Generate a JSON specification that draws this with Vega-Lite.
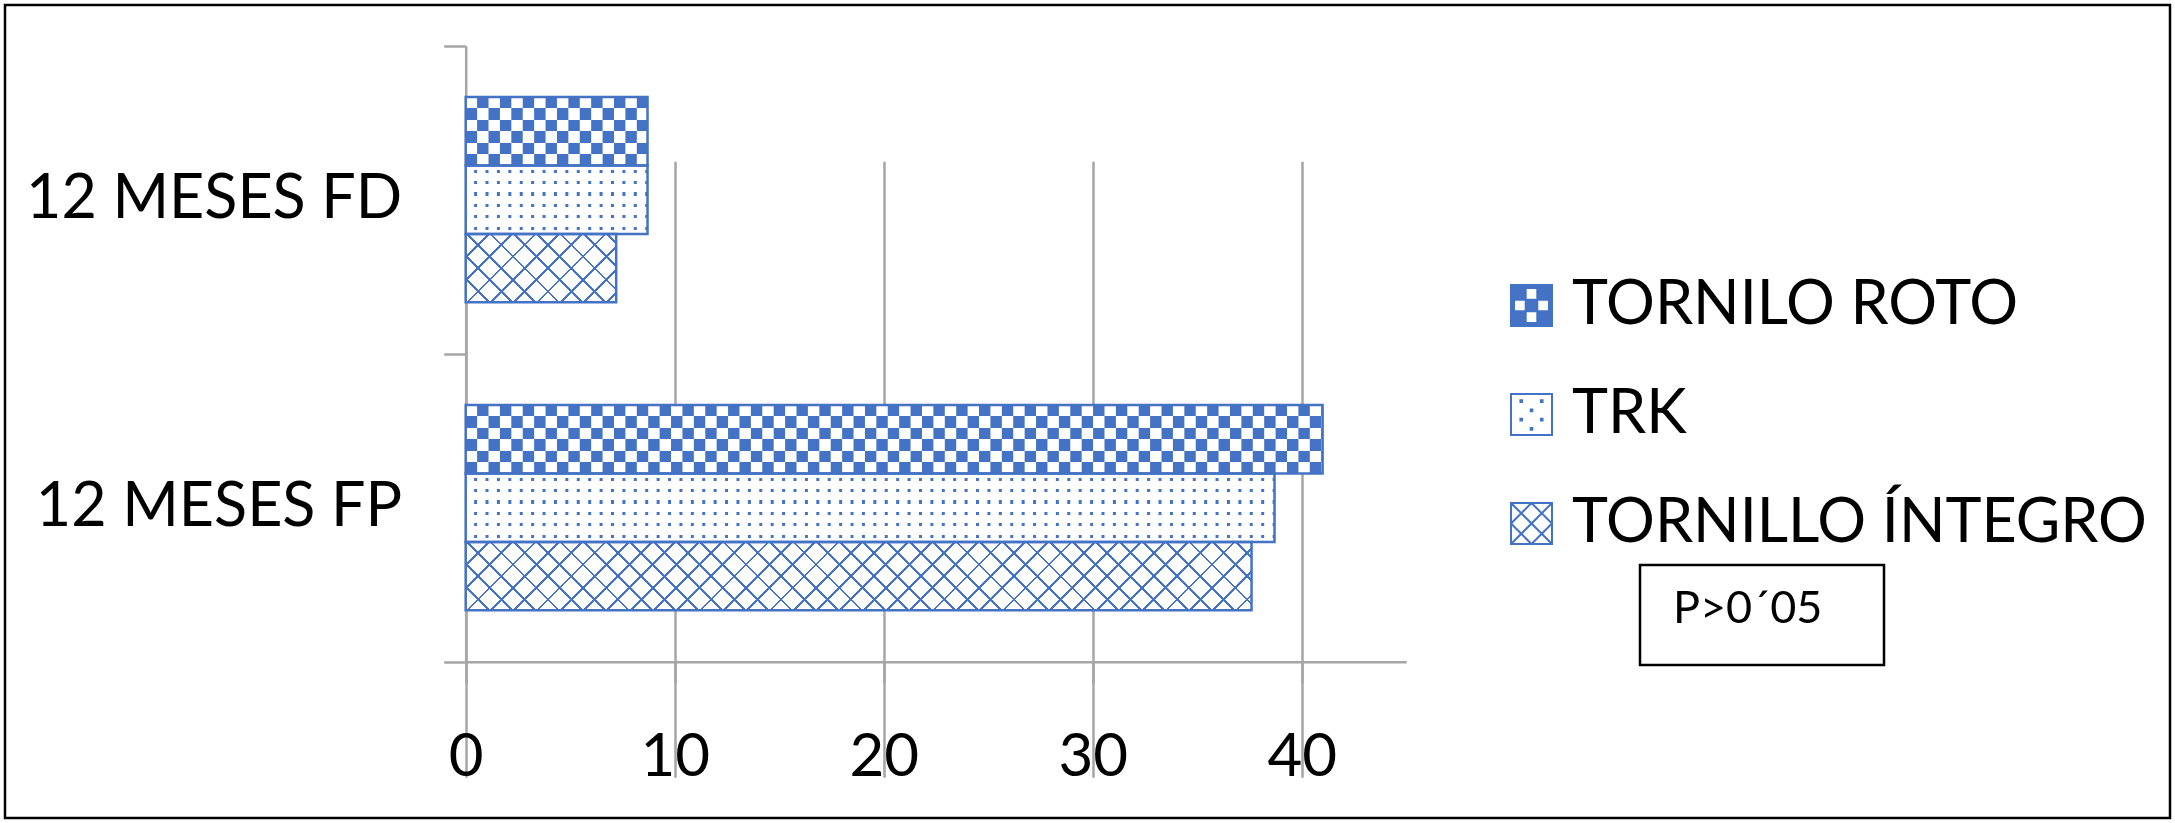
{
  "$schema": "https://vega.github.io/schema/vega-lite/v6.json",
  "width": 2165,
  "height": 813,
  "autosize": {"type": "none"},
  "padding": 5,
  "background": "white",
  "config": {
    "view": {"stroke": "#000000", "strokeWidth": 2.5},
    "axis": {"labelFont": "Lato", "labelColor": "#000000", "domainColor": "#A6A6A6", "tickColor": "#A6A6A6", "gridColor": "#A6A6A6", "domainWidth": 2.5, "tickWidth": 2.5, "gridWidth": 2.5, "labelLimit": 1000},
    "legend": {"labelLimit": 1000, "strokeWidth": 2.5}
  },
  "data": {
    "values": [
      {"periodo": "12 MESES FD", "serie": "TORNILO ROTO", "valor": 8.7},
      {"periodo": "12 MESES FD", "serie": "TRK", "valor": 8.7},
      {"periodo": "12 MESES FD", "serie": "TORNILLO ÍNTEGRO", "valor": 7.2},
      {"periodo": "12 MESES FP", "serie": "TORNILO ROTO", "valor": 41.0},
      {"periodo": "12 MESES FP", "serie": "TRK", "valor": 38.7},
      {"periodo": "12 MESES FP", "serie": "TORNILLO ÍNTEGRO", "valor": 37.6}
    ]
  },
  "encoding": {
    "y": {
      "field": "periodo", "type": "nominal", "sort": ["12 MESES FD", "12 MESES FP"],
      "scale": {"range": [40.7, 656.7], "paddingInner": 0, "paddingOuter": 0},
      "axis": {"title": null, "offset": -460.7, "tickBand": "extent", "tickSize": 22, "labelFontSize": 61, "labelPadding": 42, "grid": false}
    },
    "yOffset": {"field": "serie", "type": "nominal", "sort": ["TORNILO ROTO", "TRK", "TORNILLO ÍNTEGRO"], "scale": {"paddingInner": 0, "paddingOuter": 0.75}},
    "x": {
      "field": "valor", "type": "quantitative",
      "scale": {"domain": [0, 45], "range": [460.7, 1401.2], "nice": false},
      "axis": {"title": null, "values": [0, 10, 20, 30, 40], "offset": -156.3, "tickSize": 21, "labelFontSize": 60, "labelPadding": 46, "grid": true, "labelFlush": false}
    }
  },
  "layer": [
    {
      "transform": [{"filter": "datum.serie == 'TORNILO ROTO'"}],
      "mark": {"type": "bar", "fill": {"gradient": "linear", "x1": 0, "y1": 0, "x2": 0, "y2": 1, "stops": [
        {"offset": 0, "color": "#000000"}, {"offset": 0.16667, "color": "#000000"},
        {"offset": 0.16667, "color": "#ffffff"}, {"offset": 0.33333, "color": "#ffffff"},
        {"offset": 0.33333, "color": "#000000"}, {"offset": 0.5, "color": "#000000"},
        {"offset": 0.5, "color": "#ffffff"}, {"offset": 0.66667, "color": "#ffffff"},
        {"offset": 0.66667, "color": "#000000"}, {"offset": 0.83333, "color": "#000000"},
        {"offset": 0.83333, "color": "#ffffff"}, {"offset": 1, "color": "#ffffff"}
      ]}}
    },
    {
      "transform": [{"filter": "datum.serie == 'TORNILO ROTO'"}],
      "mark": {"type": "rule", "stroke": "#ffffff", "strokeWidth": 68.444, "strokeDash": [11.407, 11.407], "strokeCap": "butt", "blend": "difference"},
      "encoding": {"x": {"datum": 0, "type": "quantitative"}, "x2": {"field": "valor"}}
    },
    {
      "transform": [{"filter": "datum.serie == 'TORNILO ROTO'"}],
      "mark": {"type": "bar", "fill": "#4472C4", "blend": "screen"}
    },
    {
      "transform": [{"filter": "datum.serie == 'TRK'"}],
      "mark": {"type": "bar", "fill": {"gradient": "linear", "x1": 0, "y1": 0, "x2": 0, "y2": 1, "stops": [
        {"offset": 0, "color": "#ffffff"},
        {"offset": 0.0613, "color": "#ffffff"}, {"offset": 0.0613, "color": "#4472C4"}, {"offset": 0.1053, "color": "#4472C4"}, {"offset": 0.1053, "color": "#ffffff"},
        {"offset": 0.228, "color": "#ffffff"}, {"offset": 0.228, "color": "#4472C4"}, {"offset": 0.272, "color": "#4472C4"}, {"offset": 0.272, "color": "#ffffff"},
        {"offset": 0.3947, "color": "#ffffff"}, {"offset": 0.3947, "color": "#4472C4"}, {"offset": 0.4387, "color": "#4472C4"}, {"offset": 0.4387, "color": "#ffffff"},
        {"offset": 0.5613, "color": "#ffffff"}, {"offset": 0.5613, "color": "#4472C4"}, {"offset": 0.6053, "color": "#4472C4"}, {"offset": 0.6053, "color": "#ffffff"},
        {"offset": 0.728, "color": "#ffffff"}, {"offset": 0.728, "color": "#4472C4"}, {"offset": 0.772, "color": "#4472C4"}, {"offset": 0.772, "color": "#ffffff"},
        {"offset": 0.8947, "color": "#ffffff"}, {"offset": 0.8947, "color": "#4472C4"}, {"offset": 0.9387, "color": "#4472C4"}, {"offset": 0.9387, "color": "#ffffff"},
        {"offset": 1, "color": "#ffffff"}
      ]}}
    },
    {
      "transform": [{"filter": "datum.serie == 'TRK'"}],
      "mark": {"type": "rule", "stroke": "#ffffff", "strokeWidth": 68.444, "strokeDash": [8.407, 3], "strokeCap": "butt"},
      "encoding": {"x": {"datum": 0, "type": "quantitative"}, "x2": {"field": "valor"}}
    },
    {
      "transform": [{"filter": "datum.serie == 'TORNILLO ÍNTEGRO'"}],
      "mark": {"type": "bar", "fill": "#ffffff"}
    },
    {
      "transform": [{"filter": "datum.serie == 'TORNILLO ÍNTEGRO' && datum.periodo == '12 MESES FD'"}],
      "mark": {"type": "bar", "fill": {"gradient": "linear", "x1": 0, "y1": 0, "x2": 1.20546, "y2": 0.54827, "stops": [
        {"offset": 0, "color": "rgba(68,114,196,0)"},
        {"offset": 0.10004, "color": "rgba(68,114,196,0)"}, {"offset": 0.10004, "color": "#4472C4"}, {"offset": 0.11283, "color": "#4472C4"}, {"offset": 0.11283, "color": "rgba(68,114,196,0)"},
        {"offset": 0.20647, "color": "rgba(68,114,196,0)"}, {"offset": 0.20647, "color": "#4472C4"}, {"offset": 0.21926, "color": "#4472C4"}, {"offset": 0.21926, "color": "rgba(68,114,196,0)"},
        {"offset": 0.31290, "color": "rgba(68,114,196,0)"}, {"offset": 0.31290, "color": "#4472C4"}, {"offset": 0.32569, "color": "#4472C4"}, {"offset": 0.32569, "color": "rgba(68,114,196,0)"},
        {"offset": 0.41933, "color": "rgba(68,114,196,0)"}, {"offset": 0.41933, "color": "#4472C4"}, {"offset": 0.43212, "color": "#4472C4"}, {"offset": 0.43212, "color": "rgba(68,114,196,0)"},
        {"offset": 0.52576, "color": "rgba(68,114,196,0)"}, {"offset": 0.52576, "color": "#4472C4"}, {"offset": 0.53855, "color": "#4472C4"}, {"offset": 0.53855, "color": "rgba(68,114,196,0)"},
        {"offset": 0.63219, "color": "rgba(68,114,196,0)"}, {"offset": 0.63219, "color": "#4472C4"}, {"offset": 0.64498, "color": "#4472C4"}, {"offset": 0.64498, "color": "rgba(68,114,196,0)"},
        {"offset": 0.73862, "color": "rgba(68,114,196,0)"}, {"offset": 0.73862, "color": "#4472C4"}, {"offset": 0.75141, "color": "#4472C4"}, {"offset": 0.75141, "color": "rgba(68,114,196,0)"},
        {"offset": 0.84505, "color": "rgba(68,114,196,0)"}, {"offset": 0.84505, "color": "#4472C4"}, {"offset": 0.85784, "color": "#4472C4"}, {"offset": 0.85784, "color": "rgba(68,114,196,0)"},
        {"offset": 0.95148, "color": "rgba(68,114,196,0)"}, {"offset": 0.95148, "color": "#4472C4"}, {"offset": 0.96427, "color": "#4472C4"}, {"offset": 0.96427, "color": "rgba(68,114,196,0)"},
        {"offset": 1, "color": "rgba(68,114,196,0)"}
      ]}}
    },
    {
      "transform": [{"filter": "datum.serie == 'TORNILLO ÍNTEGRO' && datum.periodo == '12 MESES FD'"}],
      "mark": {"type": "bar", "fill": {"gradient": "linear", "x1": 0, "y1": 1, "x2": 1.20546, "y2": 0.45173, "stops": [
        {"offset": 0, "color": "rgba(68,114,196,0)"},
        {"offset": 0.10004, "color": "rgba(68,114,196,0)"}, {"offset": 0.10004, "color": "#4472C4"}, {"offset": 0.11283, "color": "#4472C4"}, {"offset": 0.11283, "color": "rgba(68,114,196,0)"},
        {"offset": 0.20647, "color": "rgba(68,114,196,0)"}, {"offset": 0.20647, "color": "#4472C4"}, {"offset": 0.21926, "color": "#4472C4"}, {"offset": 0.21926, "color": "rgba(68,114,196,0)"},
        {"offset": 0.31290, "color": "rgba(68,114,196,0)"}, {"offset": 0.31290, "color": "#4472C4"}, {"offset": 0.32569, "color": "#4472C4"}, {"offset": 0.32569, "color": "rgba(68,114,196,0)"},
        {"offset": 0.41933, "color": "rgba(68,114,196,0)"}, {"offset": 0.41933, "color": "#4472C4"}, {"offset": 0.43212, "color": "#4472C4"}, {"offset": 0.43212, "color": "rgba(68,114,196,0)"},
        {"offset": 0.52576, "color": "rgba(68,114,196,0)"}, {"offset": 0.52576, "color": "#4472C4"}, {"offset": 0.53855, "color": "#4472C4"}, {"offset": 0.53855, "color": "rgba(68,114,196,0)"},
        {"offset": 0.63219, "color": "rgba(68,114,196,0)"}, {"offset": 0.63219, "color": "#4472C4"}, {"offset": 0.64498, "color": "#4472C4"}, {"offset": 0.64498, "color": "rgba(68,114,196,0)"},
        {"offset": 0.73862, "color": "rgba(68,114,196,0)"}, {"offset": 0.73862, "color": "#4472C4"}, {"offset": 0.75141, "color": "#4472C4"}, {"offset": 0.75141, "color": "rgba(68,114,196,0)"},
        {"offset": 0.84505, "color": "rgba(68,114,196,0)"}, {"offset": 0.84505, "color": "#4472C4"}, {"offset": 0.85784, "color": "#4472C4"}, {"offset": 0.85784, "color": "rgba(68,114,196,0)"},
        {"offset": 0.95148, "color": "rgba(68,114,196,0)"}, {"offset": 0.95148, "color": "#4472C4"}, {"offset": 0.96427, "color": "#4472C4"}, {"offset": 0.96427, "color": "rgba(68,114,196,0)"},
        {"offset": 1, "color": "rgba(68,114,196,0)"}
      ]}}
    },
    {
      "transform": [{"filter": "datum.serie == 'TORNILLO ÍNTEGRO' && datum.periodo == '12 MESES FP'"}],
      "mark": {"type": "bar", "fill": {"gradient": "linear", "x1": 0, "y1": 0, "x2": 1.07891, "y2": 0.093964, "stops": [
        {"offset": 0, "color": "rgba(68,114,196,0)"},
        {"offset": 0.02563, "color": "rgba(68,114,196,0)"}, {"offset": 0.02563, "color": "#4472C4"}, {"offset": 0.02891, "color": "#4472C4"}, {"offset": 0.02891, "color": "rgba(68,114,196,0)"},
        {"offset": 0.05291, "color": "rgba(68,114,196,0)"}, {"offset": 0.05291, "color": "#4472C4"}, {"offset": 0.05619, "color": "#4472C4"}, {"offset": 0.05619, "color": "rgba(68,114,196,0)"},
        {"offset": 0.08018, "color": "rgba(68,114,196,0)"}, {"offset": 0.08018, "color": "#4472C4"}, {"offset": 0.08346, "color": "#4472C4"}, {"offset": 0.08346, "color": "rgba(68,114,196,0)"},
        {"offset": 0.10746, "color": "rgba(68,114,196,0)"}, {"offset": 0.10746, "color": "#4472C4"}, {"offset": 0.11074, "color": "#4472C4"}, {"offset": 0.11074, "color": "rgba(68,114,196,0)"},
        {"offset": 0.13473, "color": "rgba(68,114,196,0)"}, {"offset": 0.13473, "color": "#4472C4"}, {"offset": 0.13801, "color": "#4472C4"}, {"offset": 0.13801, "color": "rgba(68,114,196,0)"},
        {"offset": 0.16201, "color": "rgba(68,114,196,0)"}, {"offset": 0.16201, "color": "#4472C4"}, {"offset": 0.16529, "color": "#4472C4"}, {"offset": 0.16529, "color": "rgba(68,114,196,0)"},
        {"offset": 0.18928, "color": "rgba(68,114,196,0)"}, {"offset": 0.18928, "color": "#4472C4"}, {"offset": 0.19256, "color": "#4472C4"}, {"offset": 0.19256, "color": "rgba(68,114,196,0)"},
        {"offset": 0.21656, "color": "rgba(68,114,196,0)"}, {"offset": 0.21656, "color": "#4472C4"}, {"offset": 0.21984, "color": "#4472C4"}, {"offset": 0.21984, "color": "rgba(68,114,196,0)"},
        {"offset": 0.24383, "color": "rgba(68,114,196,0)"}, {"offset": 0.24383, "color": "#4472C4"}, {"offset": 0.24711, "color": "#4472C4"}, {"offset": 0.24711, "color": "rgba(68,114,196,0)"},
        {"offset": 0.27111, "color": "rgba(68,114,196,0)"}, {"offset": 0.27111, "color": "#4472C4"}, {"offset": 0.27439, "color": "#4472C4"}, {"offset": 0.27439, "color": "rgba(68,114,196,0)"},
        {"offset": 0.29838, "color": "rgba(68,114,196,0)"}, {"offset": 0.29838, "color": "#4472C4"}, {"offset": 0.30166, "color": "#4472C4"}, {"offset": 0.30166, "color": "rgba(68,114,196,0)"},
        {"offset": 0.32565, "color": "rgba(68,114,196,0)"}, {"offset": 0.32565, "color": "#4472C4"}, {"offset": 0.32893, "color": "#4472C4"}, {"offset": 0.32893, "color": "rgba(68,114,196,0)"},
        {"offset": 0.35293, "color": "rgba(68,114,196,0)"}, {"offset": 0.35293, "color": "#4472C4"}, {"offset": 0.35621, "color": "#4472C4"}, {"offset": 0.35621, "color": "rgba(68,114,196,0)"},
        {"offset": 0.38020, "color": "rgba(68,114,196,0)"}, {"offset": 0.38020, "color": "#4472C4"}, {"offset": 0.38348, "color": "#4472C4"}, {"offset": 0.38348, "color": "rgba(68,114,196,0)"},
        {"offset": 0.40748, "color": "rgba(68,114,196,0)"}, {"offset": 0.40748, "color": "#4472C4"}, {"offset": 0.41076, "color": "#4472C4"}, {"offset": 0.41076, "color": "rgba(68,114,196,0)"},
        {"offset": 0.43475, "color": "rgba(68,114,196,0)"}, {"offset": 0.43475, "color": "#4472C4"}, {"offset": 0.43803, "color": "#4472C4"}, {"offset": 0.43803, "color": "rgba(68,114,196,0)"},
        {"offset": 0.46203, "color": "rgba(68,114,196,0)"}, {"offset": 0.46203, "color": "#4472C4"}, {"offset": 0.46531, "color": "#4472C4"}, {"offset": 0.46531, "color": "rgba(68,114,196,0)"},
        {"offset": 0.48930, "color": "rgba(68,114,196,0)"}, {"offset": 0.48930, "color": "#4472C4"}, {"offset": 0.49258, "color": "#4472C4"}, {"offset": 0.49258, "color": "rgba(68,114,196,0)"},
        {"offset": 0.51658, "color": "rgba(68,114,196,0)"}, {"offset": 0.51658, "color": "#4472C4"}, {"offset": 0.51986, "color": "#4472C4"}, {"offset": 0.51986, "color": "rgba(68,114,196,0)"},
        {"offset": 0.54385, "color": "rgba(68,114,196,0)"}, {"offset": 0.54385, "color": "#4472C4"}, {"offset": 0.54713, "color": "#4472C4"}, {"offset": 0.54713, "color": "rgba(68,114,196,0)"},
        {"offset": 0.57112, "color": "rgba(68,114,196,0)"}, {"offset": 0.57112, "color": "#4472C4"}, {"offset": 0.57440, "color": "#4472C4"}, {"offset": 0.57440, "color": "rgba(68,114,196,0)"},
        {"offset": 0.59840, "color": "rgba(68,114,196,0)"}, {"offset": 0.59840, "color": "#4472C4"}, {"offset": 0.60168, "color": "#4472C4"}, {"offset": 0.60168, "color": "rgba(68,114,196,0)"},
        {"offset": 0.62567, "color": "rgba(68,114,196,0)"}, {"offset": 0.62567, "color": "#4472C4"}, {"offset": 0.62895, "color": "#4472C4"}, {"offset": 0.62895, "color": "rgba(68,114,196,0)"},
        {"offset": 0.65295, "color": "rgba(68,114,196,0)"}, {"offset": 0.65295, "color": "#4472C4"}, {"offset": 0.65623, "color": "#4472C4"}, {"offset": 0.65623, "color": "rgba(68,114,196,0)"},
        {"offset": 0.68022, "color": "rgba(68,114,196,0)"}, {"offset": 0.68022, "color": "#4472C4"}, {"offset": 0.68350, "color": "#4472C4"}, {"offset": 0.68350, "color": "rgba(68,114,196,0)"},
        {"offset": 0.70750, "color": "rgba(68,114,196,0)"}, {"offset": 0.70750, "color": "#4472C4"}, {"offset": 0.71078, "color": "#4472C4"}, {"offset": 0.71078, "color": "rgba(68,114,196,0)"},
        {"offset": 0.73477, "color": "rgba(68,114,196,0)"}, {"offset": 0.73477, "color": "#4472C4"}, {"offset": 0.73805, "color": "#4472C4"}, {"offset": 0.73805, "color": "rgba(68,114,196,0)"},
        {"offset": 0.76205, "color": "rgba(68,114,196,0)"}, {"offset": 0.76205, "color": "#4472C4"}, {"offset": 0.76533, "color": "#4472C4"}, {"offset": 0.76533, "color": "rgba(68,114,196,0)"},
        {"offset": 0.78932, "color": "rgba(68,114,196,0)"}, {"offset": 0.78932, "color": "#4472C4"}, {"offset": 0.79260, "color": "#4472C4"}, {"offset": 0.79260, "color": "rgba(68,114,196,0)"},
        {"offset": 0.81659, "color": "rgba(68,114,196,0)"}, {"offset": 0.81659, "color": "#4472C4"}, {"offset": 0.81987, "color": "#4472C4"}, {"offset": 0.81987, "color": "rgba(68,114,196,0)"},
        {"offset": 0.84387, "color": "rgba(68,114,196,0)"}, {"offset": 0.84387, "color": "#4472C4"}, {"offset": 0.84715, "color": "#4472C4"}, {"offset": 0.84715, "color": "rgba(68,114,196,0)"},
        {"offset": 0.87114, "color": "rgba(68,114,196,0)"}, {"offset": 0.87114, "color": "#4472C4"}, {"offset": 0.87442, "color": "#4472C4"}, {"offset": 0.87442, "color": "rgba(68,114,196,0)"},
        {"offset": 0.89842, "color": "rgba(68,114,196,0)"}, {"offset": 0.89842, "color": "#4472C4"}, {"offset": 0.90170, "color": "#4472C4"}, {"offset": 0.90170, "color": "rgba(68,114,196,0)"},
        {"offset": 0.92569, "color": "rgba(68,114,196,0)"}, {"offset": 0.92569, "color": "#4472C4"}, {"offset": 0.92897, "color": "#4472C4"}, {"offset": 0.92897, "color": "rgba(68,114,196,0)"},
        {"offset": 0.95297, "color": "rgba(68,114,196,0)"}, {"offset": 0.95297, "color": "#4472C4"}, {"offset": 0.95625, "color": "#4472C4"}, {"offset": 0.95625, "color": "rgba(68,114,196,0)"},
        {"offset": 0.98024, "color": "rgba(68,114,196,0)"}, {"offset": 0.98024, "color": "#4472C4"}, {"offset": 0.98352, "color": "#4472C4"}, {"offset": 0.98352, "color": "rgba(68,114,196,0)"},
        {"offset": 1, "color": "rgba(68,114,196,0)"}
      ]}}
    },
    {
      "transform": [{"filter": "datum.serie == 'TORNILLO ÍNTEGRO' && datum.periodo == '12 MESES FP'"}],
      "mark": {"type": "bar", "fill": {"gradient": "linear", "x1": 0, "y1": 1, "x2": 1.07891, "y2": 0.906036, "stops": [
        {"offset": 0, "color": "rgba(68,114,196,0)"},
        {"offset": 0.02563, "color": "rgba(68,114,196,0)"}, {"offset": 0.02563, "color": "#4472C4"}, {"offset": 0.02891, "color": "#4472C4"}, {"offset": 0.02891, "color": "rgba(68,114,196,0)"},
        {"offset": 0.05291, "color": "rgba(68,114,196,0)"}, {"offset": 0.05291, "color": "#4472C4"}, {"offset": 0.05619, "color": "#4472C4"}, {"offset": 0.05619, "color": "rgba(68,114,196,0)"},
        {"offset": 0.08018, "color": "rgba(68,114,196,0)"}, {"offset": 0.08018, "color": "#4472C4"}, {"offset": 0.08346, "color": "#4472C4"}, {"offset": 0.08346, "color": "rgba(68,114,196,0)"},
        {"offset": 0.10746, "color": "rgba(68,114,196,0)"}, {"offset": 0.10746, "color": "#4472C4"}, {"offset": 0.11074, "color": "#4472C4"}, {"offset": 0.11074, "color": "rgba(68,114,196,0)"},
        {"offset": 0.13473, "color": "rgba(68,114,196,0)"}, {"offset": 0.13473, "color": "#4472C4"}, {"offset": 0.13801, "color": "#4472C4"}, {"offset": 0.13801, "color": "rgba(68,114,196,0)"},
        {"offset": 0.16201, "color": "rgba(68,114,196,0)"}, {"offset": 0.16201, "color": "#4472C4"}, {"offset": 0.16529, "color": "#4472C4"}, {"offset": 0.16529, "color": "rgba(68,114,196,0)"},
        {"offset": 0.18928, "color": "rgba(68,114,196,0)"}, {"offset": 0.18928, "color": "#4472C4"}, {"offset": 0.19256, "color": "#4472C4"}, {"offset": 0.19256, "color": "rgba(68,114,196,0)"},
        {"offset": 0.21656, "color": "rgba(68,114,196,0)"}, {"offset": 0.21656, "color": "#4472C4"}, {"offset": 0.21984, "color": "#4472C4"}, {"offset": 0.21984, "color": "rgba(68,114,196,0)"},
        {"offset": 0.24383, "color": "rgba(68,114,196,0)"}, {"offset": 0.24383, "color": "#4472C4"}, {"offset": 0.24711, "color": "#4472C4"}, {"offset": 0.24711, "color": "rgba(68,114,196,0)"},
        {"offset": 0.27111, "color": "rgba(68,114,196,0)"}, {"offset": 0.27111, "color": "#4472C4"}, {"offset": 0.27439, "color": "#4472C4"}, {"offset": 0.27439, "color": "rgba(68,114,196,0)"},
        {"offset": 0.29838, "color": "rgba(68,114,196,0)"}, {"offset": 0.29838, "color": "#4472C4"}, {"offset": 0.30166, "color": "#4472C4"}, {"offset": 0.30166, "color": "rgba(68,114,196,0)"},
        {"offset": 0.32565, "color": "rgba(68,114,196,0)"}, {"offset": 0.32565, "color": "#4472C4"}, {"offset": 0.32893, "color": "#4472C4"}, {"offset": 0.32893, "color": "rgba(68,114,196,0)"},
        {"offset": 0.35293, "color": "rgba(68,114,196,0)"}, {"offset": 0.35293, "color": "#4472C4"}, {"offset": 0.35621, "color": "#4472C4"}, {"offset": 0.35621, "color": "rgba(68,114,196,0)"},
        {"offset": 0.38020, "color": "rgba(68,114,196,0)"}, {"offset": 0.38020, "color": "#4472C4"}, {"offset": 0.38348, "color": "#4472C4"}, {"offset": 0.38348, "color": "rgba(68,114,196,0)"},
        {"offset": 0.40748, "color": "rgba(68,114,196,0)"}, {"offset": 0.40748, "color": "#4472C4"}, {"offset": 0.41076, "color": "#4472C4"}, {"offset": 0.41076, "color": "rgba(68,114,196,0)"},
        {"offset": 0.43475, "color": "rgba(68,114,196,0)"}, {"offset": 0.43475, "color": "#4472C4"}, {"offset": 0.43803, "color": "#4472C4"}, {"offset": 0.43803, "color": "rgba(68,114,196,0)"},
        {"offset": 0.46203, "color": "rgba(68,114,196,0)"}, {"offset": 0.46203, "color": "#4472C4"}, {"offset": 0.46531, "color": "#4472C4"}, {"offset": 0.46531, "color": "rgba(68,114,196,0)"},
        {"offset": 0.48930, "color": "rgba(68,114,196,0)"}, {"offset": 0.48930, "color": "#4472C4"}, {"offset": 0.49258, "color": "#4472C4"}, {"offset": 0.49258, "color": "rgba(68,114,196,0)"},
        {"offset": 0.51658, "color": "rgba(68,114,196,0)"}, {"offset": 0.51658, "color": "#4472C4"}, {"offset": 0.51986, "color": "#4472C4"}, {"offset": 0.51986, "color": "rgba(68,114,196,0)"},
        {"offset": 0.54385, "color": "rgba(68,114,196,0)"}, {"offset": 0.54385, "color": "#4472C4"}, {"offset": 0.54713, "color": "#4472C4"}, {"offset": 0.54713, "color": "rgba(68,114,196,0)"},
        {"offset": 0.57112, "color": "rgba(68,114,196,0)"}, {"offset": 0.57112, "color": "#4472C4"}, {"offset": 0.57440, "color": "#4472C4"}, {"offset": 0.57440, "color": "rgba(68,114,196,0)"},
        {"offset": 0.59840, "color": "rgba(68,114,196,0)"}, {"offset": 0.59840, "color": "#4472C4"}, {"offset": 0.60168, "color": "#4472C4"}, {"offset": 0.60168, "color": "rgba(68,114,196,0)"},
        {"offset": 0.62567, "color": "rgba(68,114,196,0)"}, {"offset": 0.62567, "color": "#4472C4"}, {"offset": 0.62895, "color": "#4472C4"}, {"offset": 0.62895, "color": "rgba(68,114,196,0)"},
        {"offset": 0.65295, "color": "rgba(68,114,196,0)"}, {"offset": 0.65295, "color": "#4472C4"}, {"offset": 0.65623, "color": "#4472C4"}, {"offset": 0.65623, "color": "rgba(68,114,196,0)"},
        {"offset": 0.68022, "color": "rgba(68,114,196,0)"}, {"offset": 0.68022, "color": "#4472C4"}, {"offset": 0.68350, "color": "#4472C4"}, {"offset": 0.68350, "color": "rgba(68,114,196,0)"},
        {"offset": 0.70750, "color": "rgba(68,114,196,0)"}, {"offset": 0.70750, "color": "#4472C4"}, {"offset": 0.71078, "color": "#4472C4"}, {"offset": 0.71078, "color": "rgba(68,114,196,0)"},
        {"offset": 0.73477, "color": "rgba(68,114,196,0)"}, {"offset": 0.73477, "color": "#4472C4"}, {"offset": 0.73805, "color": "#4472C4"}, {"offset": 0.73805, "color": "rgba(68,114,196,0)"},
        {"offset": 0.76205, "color": "rgba(68,114,196,0)"}, {"offset": 0.76205, "color": "#4472C4"}, {"offset": 0.76533, "color": "#4472C4"}, {"offset": 0.76533, "color": "rgba(68,114,196,0)"},
        {"offset": 0.78932, "color": "rgba(68,114,196,0)"}, {"offset": 0.78932, "color": "#4472C4"}, {"offset": 0.79260, "color": "#4472C4"}, {"offset": 0.79260, "color": "rgba(68,114,196,0)"},
        {"offset": 0.81659, "color": "rgba(68,114,196,0)"}, {"offset": 0.81659, "color": "#4472C4"}, {"offset": 0.81987, "color": "#4472C4"}, {"offset": 0.81987, "color": "rgba(68,114,196,0)"},
        {"offset": 0.84387, "color": "rgba(68,114,196,0)"}, {"offset": 0.84387, "color": "#4472C4"}, {"offset": 0.84715, "color": "#4472C4"}, {"offset": 0.84715, "color": "rgba(68,114,196,0)"},
        {"offset": 0.87114, "color": "rgba(68,114,196,0)"}, {"offset": 0.87114, "color": "#4472C4"}, {"offset": 0.87442, "color": "#4472C4"}, {"offset": 0.87442, "color": "rgba(68,114,196,0)"},
        {"offset": 0.89842, "color": "rgba(68,114,196,0)"}, {"offset": 0.89842, "color": "#4472C4"}, {"offset": 0.90170, "color": "#4472C4"}, {"offset": 0.90170, "color": "rgba(68,114,196,0)"},
        {"offset": 0.92569, "color": "rgba(68,114,196,0)"}, {"offset": 0.92569, "color": "#4472C4"}, {"offset": 0.92897, "color": "#4472C4"}, {"offset": 0.92897, "color": "rgba(68,114,196,0)"},
        {"offset": 0.95297, "color": "rgba(68,114,196,0)"}, {"offset": 0.95297, "color": "#4472C4"}, {"offset": 0.95625, "color": "#4472C4"}, {"offset": 0.95625, "color": "rgba(68,114,196,0)"},
        {"offset": 0.98024, "color": "rgba(68,114,196,0)"}, {"offset": 0.98024, "color": "#4472C4"}, {"offset": 0.98352, "color": "#4472C4"}, {"offset": 0.98352, "color": "rgba(68,114,196,0)"},
        {"offset": 1, "color": "rgba(68,114,196,0)"}
      ]}}
    },
    {
      "mark": {"type": "bar", "fill": "transparent", "stroke": "#4472C4", "strokeWidth": 2.5}
    },
    {
      "transform": [{"filter": "false"}],
      "mark": {"type": "point", "filled": true, "stroke": "#4472C4", "strokeWidth": 2, "opacity": 1},
      "encoding": {
        "color": {
          "field": "serie", "type": "nominal",
          "scale": {"domain": ["TORNILO ROTO", "TRK", "TORNILLO ÍNTEGRO"], "range": ["#4472C4", "#ffffff", "#ffffff"]},
          "legend": {"orient": "none", "legendX": 1496, "legendY": 270, "title": null, "padding": 0, "rowPadding": 47, "labelOffset": 10, "labelFont": "Lato", "labelFontSize": 61, "labelColor": "#000000", "symbolSize": 1681, "symbolStrokeColor": "#4472C4", "symbolStrokeWidth": 2, "labelLimit": 1000}
        },
        "shape": {
          "field": "serie", "type": "nominal",
          "scale": {"domain": ["TORNILO ROTO", "TRK", "TORNILLO ÍNTEGRO"], "range": [
            "M-1,-1H1V1H-1Z M-0.85,-0.85V0.85H0.85V-0.85Z M-0.85,-0.85h0.5667v0.5667h-0.5667Z M0.2833,-0.85h0.5667v0.5667h-0.5667Z M-0.2833,-0.2833h0.5667v0.5667h-0.5667Z M-0.85,0.2833h0.5667v0.5667h-0.5667Z M0.2833,0.2833h0.5667v0.5667h-0.5667Z",
            "M-1,-1H1V1H-1Z M-0.54,-0.69h0.08v0.08h-0.08Z M0.46,-0.69h0.08v0.08h-0.08Z M-0.04,-0.24h0.08v0.08h-0.08Z M-0.54,0.21h0.08v0.08h-0.08Z M0.46,0.21h0.08v0.08h-0.08Z M-0.04,0.66h0.08v0.08h-0.08Z",
            "M-1,-1H1V1H-1Z M0,-1L1,0L0,1L-1,0Z M-1,-1L1,1 M1,-1L-1,1"
          ]},
          "legend": {"orient": "none", "legendX": 1496, "legendY": 270, "title": null, "padding": 0, "rowPadding": 47, "labelOffset": 10, "labelFont": "Lato", "labelFontSize": 61, "labelColor": "#000000", "symbolSize": 1681, "symbolStrokeColor": "#4472C4", "symbolStrokeWidth": 2, "labelLimit": 1000}
        },
        "strokeDash": {
          "datum": "P>0´05", "type": "nominal",
          "legend": {"orient": "none", "legendX": 1635, "legendY": 560, "title": "P>0´05", "titleOrient": "left", "titleFont": "Lato", "titleFontSize": 45, "titleFontWeight": "normal", "titleColor": "#000000", "titlePadding": 2, "strokeColor": "#000000", "padding": 33, "labelExpr": "''", "symbolOpacity": 0, "symbolSize": 400, "labelFontSize": 10}
        }
      }
    }
  ]
}
